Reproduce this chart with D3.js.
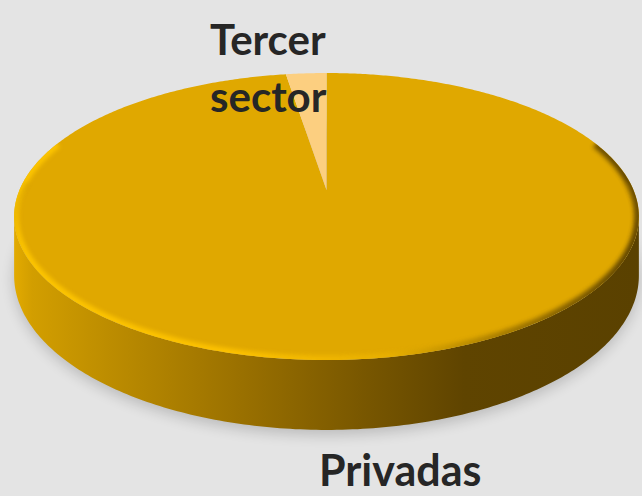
<!DOCTYPE html>
<html>
<head>
<meta charset="utf-8">
<script src="https://cdn.jsdelivr.net/npm/d3@7/dist/d3.min.js"></script>
<style>
html,body{margin:0;padding:0;background:#e4e4e4;}
svg{display:block;}
</style>
</head>
<body>
<svg id="chart" width="642" height="496"></svg>
<script>
// ---- data ----
const categories = ["Privadas", "Tercer sector"];
const values = [97.5, 2.5];
const topColors = ["#e0a800", "#fccf80"];

// ---- geometry ----
const W = 642, H = 496;
const cx = 326.5, cy = 190;      // projected centre of top face
const R = 307;                   // horizontal radius
const Rc = 138.6;                // vertical (foreshortened) radius
const u = 0.1847;                // perspective strength
const depth = 57;                // side height

function proj(theta, r, drop) {
  const s = 1 / (1 + u * r * Math.cos(theta));
  return [cx + r * R * Math.sin(theta) * s,
          cy - r * Rc * Math.cos(theta) * s + (drop || 0) * s];
}
function arcPts(a0, a1, drop, n) {
  const pts = [];
  n = n || Math.max(4, Math.ceil(Math.abs(a1 - a0) / 0.01));
  for (let i = 0; i <= n; i++) pts.push(proj(a0 + (a1 - a0) * i / n, 1, drop));
  return pts;
}
const line = d3.line();

const svg = d3.select("#chart");
const defs = svg.append("defs");

// side gradient
const sg = defs.append("linearGradient").attr("id", "sideGrad")
  .attr("gradientUnits", "userSpaceOnUse")
  .attr("x1", cx - R * 1.02).attr("x2", cx + R * 1.02).attr("y1", 0).attr("y2", 0);
[[0, "#e3ab00"], [0.03, "#d29e00"], [0.15, "#bd8d00"], [0.35, "#9c7200"],
 [0.55, "#7a5800"], [0.72, "#5f4400"], [1, "#5a4100"]]
  .forEach(d => sg.append("stop").attr("offset", d[0]).attr("stop-color", d[1]));

// bevel gradient
const bg = defs.append("linearGradient").attr("id", "bevelGrad")
  .attr("gradientUnits", "userSpaceOnUse")
  .attr("x1", cx - R * 1.02).attr("x2", cx + R * 1.02).attr("y1", 0).attr("y2", 0);
[[0, "#ffc800"], [0.35, "#ffc400"], [0.6, "#e8b000"], [0.8, "#9a7200"], [1, "#4f3800"]]
  .forEach(d => bg.append("stop").attr("offset", d[0]).attr("stop-color", d[1]));

const blur = defs.append("filter").attr("id", "blur").attr("x", "-20%").attr("y", "-20%")
  .attr("width", "140%").attr("height", "140%");
blur.append("feGaussianBlur").attr("stdDeviation", 2.2);
const shadowF = defs.append("filter").attr("id", "shadow").attr("x", "-20%").attr("y", "-30%")
  .attr("width", "140%").attr("height", "160%");
shadowF.append("feGaussianBlur").attr("stdDeviation", 7);

// pie layout
const pie = d3.pie().sort(null).value(d => d);
const arcs = pie(values);

// outline of whole top face (clip)
const fullTop = arcPts(0, 2 * Math.PI, 0, 400);
defs.append("clipPath").attr("id", "topClip")
  .append("path").attr("d", line(fullTop) + "Z");

// shadow
const thL = 2 * Math.PI - Math.acos(-u), thR = Math.acos(-u);
const frontTop = arcPts(thR, thL, 0, 200);
const frontBot = arcPts(thL, thR, depth, 200);
const shadowPts = arcPts(0, 2 * Math.PI, depth + 4, 300);
svg.append("path").attr("d", line(shadowPts) + "Z")
  .attr("fill", "#000").attr("opacity", 0.18).attr("filter", "url(#shadow)");

// side
svg.append("path").attr("d", line(frontTop.concat(frontBot)) + "Z")
  .attr("fill", "url(#sideGrad)");

// top slices
const gTop = svg.append("g");
arcs.forEach((a, i) => {
  const pts = [proj(0, 0, 0)].concat(arcPts(a.startAngle, a.endAngle, 0));
  gTop.append("path").attr("d", line(pts) + "Z").attr("fill", topColors[i]);
});

// bevel on front edge
const bevel = svg.append("g").attr("clip-path", "url(#topClip)");
const bevelPts = arcPts(thR - 0.55, thL + 0.55, 0, 240);
bevel.append("path").attr("d", line(bevelPts))
  .attr("fill", "none").attr("stroke", "url(#bevelGrad)").attr("stroke-width", 9)
  .attr("filter", "url(#blur)").attr("opacity", 0.9);
const bevelPts2 = arcPts(thR - 0.3, thL + 0.3, 8, 240);
bevel.append("path").attr("d", line(bevelPts2))
  .attr("fill", "none").attr("stroke", "#b88a00").attr("stroke-width", 3)
  .attr("filter", "url(#blur)").attr("opacity", 0.35);

// labels
const lab = svg.append("g")
  .attr("font-family", "Lato, 'Open Sans', sans-serif")
  .attr("font-weight", "bold").attr("fill", "#262626");
lab.append("text").attr("x", 210).attr("y", 55).attr("font-size", 42).text("Tercer");
lab.append("text").attr("x", 210).attr("y", 112).attr("font-size", 42).text("sector");
lab.append("text").attr("x", 319).attr("y", 486).attr("font-size", 43).text(categories[0]);
</script>
</body>
</html>
